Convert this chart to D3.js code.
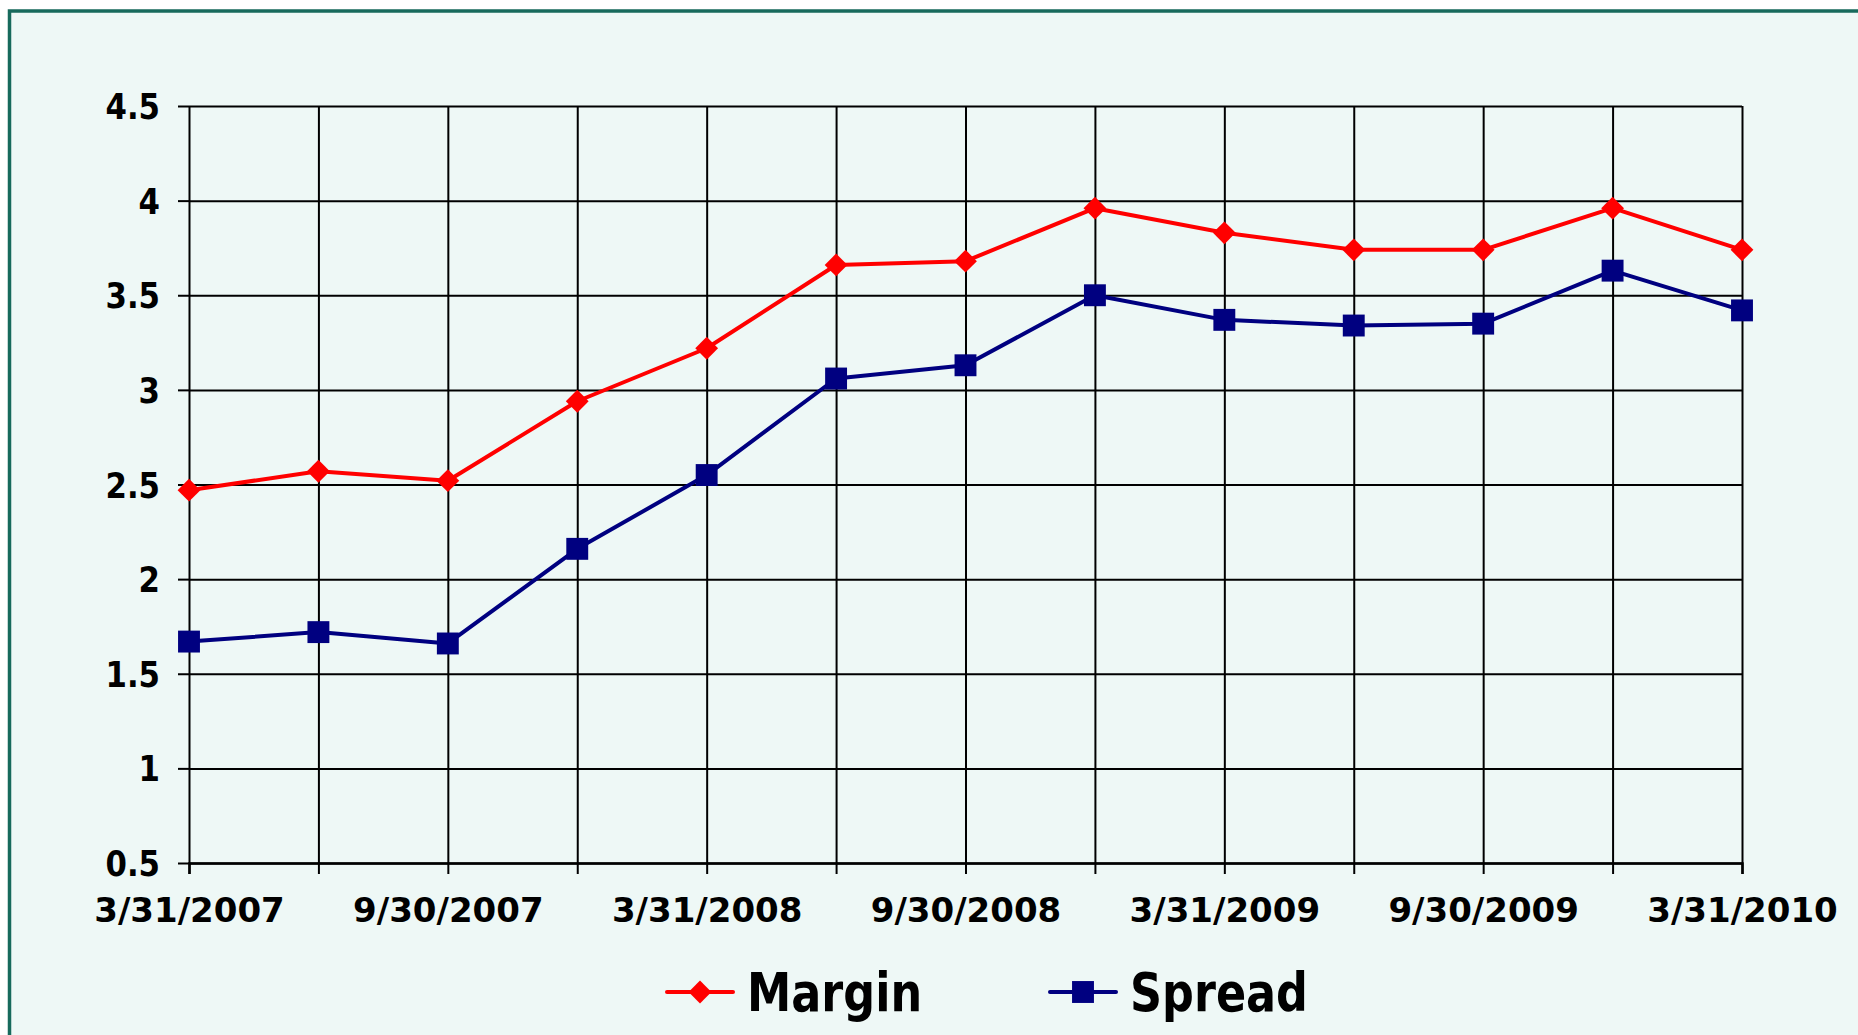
<!DOCTYPE html>
<html>
<head>
<meta charset="utf-8">
<script src="https://cdn.jsdelivr.net/npm/d3@7"></script>
<style>
  html, body { margin: 0; padding: 0; background: #fff; }
  svg { display: block; }
</style>
</head>
<body>
<svg></svg>
<script>
// quarter ends, every other one gets a label
const quarters = ["3/31/2007", "6/30/2007", "9/30/2007", "12/31/2007",
  "3/31/2008", "6/30/2008", "9/30/2008", "12/31/2008",
  "3/31/2009", "6/30/2009", "9/30/2009", "12/31/2009", "3/31/2010"];
const labelEvery = 2;

const margin = [2.47, 2.57, 2.52, 2.94, 3.22, 3.66, 3.68, 3.96, 3.83, 3.74, 3.74, 3.96, 3.74];
const spread = [1.67, 1.72, 1.66, 2.16, 2.55, 3.06, 3.13, 3.50, 3.37, 3.34, 3.35, 3.63, 3.42];

const yTicks = [0.5, 1, 1.5, 2, 2.5, 3, 3.5, 4, 4.5];

const seriesNames = ["Margin", "Spread"];
const seriesColors = ["#ff0000", "#000080"];

const width = 1858;
const height = 1035;
const marginTop = 106;
const marginRight = 116;
const marginBottom = 172;
const marginLeft = 189;

const svg = d3.select("svg")
    .attr("width", width)
    .attr("height", height)
    .attr("viewBox", [0, 0, width, height]);

// chart box with teal frame (runs off the right/bottom edge)
svg.append("rect")
    .attr("x", 9.5)
    .attr("y", 11)
    .attr("width", width + 20)
    .attr("height", height + 20)
    .attr("fill", "#eef8f6")
    .attr("stroke", "#176a5c")
    .attr("stroke-width", 3.5);

const x = d3.scalePoint()
    .domain(quarters)
    .range([marginLeft, width - marginRight]);

const y = d3.scaleLinear()
    .domain([0.5, 4.5])
    .range([height - marginBottom, marginTop]);

const font = "'DejaVu Sans', Verdana, sans-serif";
const ySquash = 0.88;

// Y axis + horizontal grid
svg.append("g")
    .attr("transform", `translate(${marginLeft},0)`)
    .call(d3.axisLeft(y).tickValues(yTicks).tickFormat(d3.format("")).tickSize(11).tickPadding(18))
    .call(g => g.select(".domain").remove())
    .call(g => g.selectAll(".tick line")
        .attr("stroke", "#000").attr("stroke-width", 2))
    .call(g => g.selectAll(".tick line").clone()
        .attr("x2", width - marginLeft - marginRight)
        .attr("stroke", "#000").attr("stroke-width", 2))
    .call(g => g.selectAll(".tick text")
        .attr("font-family", font)
        .attr("font-weight", "bold")
        .attr("font-size", 35)
        .attr("fill", "#000")
        .attr("x", -29 / ySquash)
        .attr("transform", `scale(${ySquash},1)`)
        .attr("dy", "0.36em"));

// X axis + vertical grid
svg.append("g")
    .attr("transform", `translate(0,${height - marginBottom})`)
    .call(d3.axisBottom(x)
        .tickFormat((d, i) => i % labelEvery === 0 ? d : "")
        .tickSize(11).tickPadding(24))
    .call(g => g.select(".domain")
        .attr("stroke", "#000").attr("stroke-width", 2.5))
    .call(g => g.selectAll(".tick line")
        .attr("stroke", "#000").attr("stroke-width", 2))
    .call(g => g.selectAll(".tick line").clone()
        .attr("y2", -(height - marginTop - marginBottom))
        .attr("stroke", "#000").attr("stroke-width", 2))
    .call(g => g.selectAll(".tick text")
        .attr("font-family", font)
        .attr("font-weight", "bold")
        .attr("font-size", 34)
        .attr("fill", "#000"));

// series
const data = [margin, spread];
const symbols = [
  d3.symbol(d3.symbolSquare, 260),
  d3.symbol(d3.symbolSquare, 480)
];
const rot = [45, 0];

const line = d3.line()
    .x((d, i) => x(quarters[i]))
    .y(d => y(d));

data.forEach((vals, s) => {
  svg.append("path")
      .datum(vals)
      .attr("fill", "none")
      .attr("stroke", seriesColors[s])
      .attr("stroke-width", 4)
      .attr("stroke-linejoin", "round")
      .attr("d", line);

  svg.append("g")
    .selectAll()
    .data(vals)
    .join("path")
      .attr("transform", (d, i) => `translate(${x(quarters[i])},${y(d)}) rotate(${rot[s]})`)
      .attr("fill", seriesColors[s])
      .attr("d", symbols[s]);
});

// legend
const legendX = [667, 1050];
const legendY = 992;
const legend = svg.append("g")
  .selectAll()
  .data(seriesNames)
  .join("g")
    .attr("transform", (d, i) => `translate(${legendX[i]},${legendY})`);

legend.append("line")
    .attr("x1", 0).attr("x2", 66)
    .attr("stroke", (d, i) => seriesColors[i])
    .attr("stroke-width", 4)
    .attr("stroke-linecap", "round");

legend.append("path")
    .attr("transform", (d, i) => `translate(33,0) rotate(${rot[i]})`)
    .attr("fill", (d, i) => seriesColors[i])
    .attr("d", (d, i) => symbols[i]());

legend.append("text")
    .attr("transform", "translate(80,19) scale(0.84,1)")
    .attr("font-family", font)
    .attr("font-weight", "bold")
    .attr("font-size", 53)
    .attr("fill", "#000")
    .text(d => d);
</script>
</body>
</html>
